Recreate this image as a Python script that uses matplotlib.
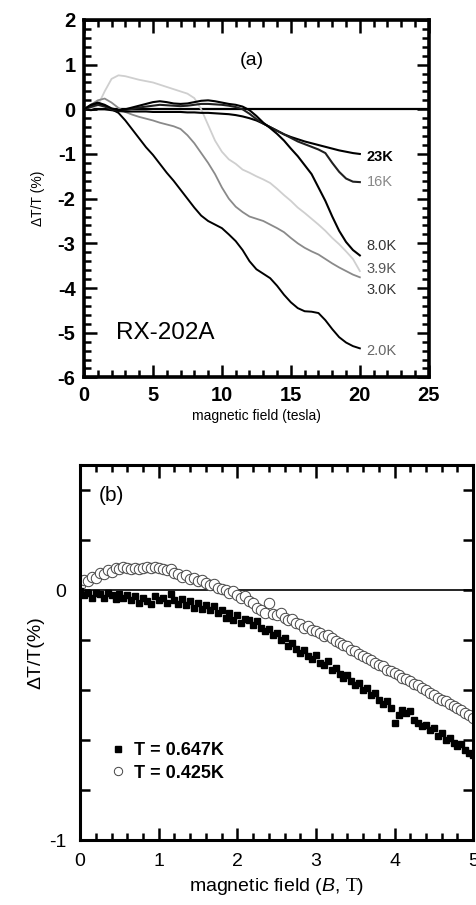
import numpy as np
import matplotlib
matplotlib.use("Agg")
import matplotlib.pyplot as plt
from matplotlib.ticker import MultipleLocator, FixedLocator

plt.rcParams['font.family'] = ['Liberation Sans', 'DejaVu Sans']
plt.rcParams['mathtext.fontset'] = 'custom'
plt.rcParams['mathtext.it'] = 'Liberation Sans:italic'
plt.rcParams['mathtext.rm'] = 'Liberation Serif'
plt.rcParams['axes.unicode_minus'] = False

# ---------------- panel (a) data ----------------
field_a = [0.0, 0.5, 1.0, 1.5, 2.0, 2.5, 3.0, 3.5, 4.0, 4.5, 5.0, 5.5, 6.0, 6.5, 7.0,
           7.5, 8.0, 8.5, 9.0, 9.5, 10.0, 10.5, 11.0, 11.5, 12.0, 12.5, 13.0, 13.5,
           14.0, 14.5, 15.0, 15.5, 16.0, 16.5, 17.0, 17.5, 18.0, 18.5, 19.0, 19.5, 20.0]

dT_2K0 = [0.0, 0.08, 0.12, 0.08, 0.0, -0.08, -0.25, -0.45, -0.65, -0.85, -1.02, -1.22,
          -1.42, -1.6, -1.8, -2.0, -2.2, -2.38, -2.5, -2.58, -2.66, -2.8, -2.95, -3.15,
          -3.4, -3.58, -3.68, -3.78, -3.95, -4.15, -4.32, -4.45, -4.52, -4.53, -4.56,
          -4.72, -4.92, -5.1, -5.22, -5.3, -5.35]
dT_3K0 = [0.0, 0.1, 0.2, 0.24, 0.15, 0.03, -0.06, -0.12, -0.17, -0.21, -0.25, -0.3,
          -0.34, -0.38, -0.44, -0.58, -0.76, -0.98, -1.2, -1.45, -1.75, -2.0, -2.18,
          -2.3, -2.4, -2.45, -2.5, -2.58, -2.66, -2.75, -2.88, -3.0, -3.1, -3.18, -3.25,
          -3.35, -3.45, -3.54, -3.62, -3.7, -3.76]
dT_3K9 = [0.0, 0.02, 0.08, 0.4, 0.68, 0.76, 0.74, 0.7, 0.66, 0.63, 0.6, 0.55, 0.5,
          0.45, 0.4, 0.35, 0.25, 0.0, -0.35, -0.7, -0.95, -1.12, -1.22, -1.35, -1.42,
          -1.5, -1.57, -1.65, -1.78, -1.92, -2.05, -2.2, -2.32, -2.45, -2.58, -2.72,
          -2.88, -3.02, -3.18, -3.35, -3.62]
dT_8K0 = [0.0, 0.1, 0.15, 0.1, 0.02, -0.02, 0.0, 0.04, 0.08, 0.12, 0.16, 0.18, 0.16,
          0.13, 0.12, 0.13, 0.16, 0.19, 0.2, 0.18, 0.15, 0.12, 0.1, 0.06, -0.02, -0.15,
          -0.3, -0.42, -0.55, -0.7, -0.88, -1.05, -1.25, -1.45, -1.75, -2.05, -2.4,
          -2.72, -2.97, -3.15, -3.27]
dT_16K = [0.0, 0.05, 0.1, 0.06, 0.0, -0.03, -0.02, 0.01, 0.04, 0.06, 0.08, 0.1, 0.09,
          0.08, 0.07, 0.08, 0.1, 0.12, 0.12, 0.11, 0.1, 0.08, 0.05, 0.0, -0.1, -0.22,
          -0.32, -0.4, -0.48, -0.56, -0.64, -0.72, -0.78, -0.84, -0.9, -0.98, -1.2,
          -1.4, -1.55, -1.62, -1.63]
dT_23K = [0.0, -0.02, 0.0, 0.0, -0.02, -0.04, -0.05, -0.05, -0.05, -0.05, -0.06, -0.06,
          -0.06, -0.06, -0.06, -0.07, -0.07, -0.08, -0.08, -0.09, -0.1, -0.11, -0.13,
          -0.16, -0.2, -0.25, -0.32, -0.4, -0.48, -0.56, -0.62, -0.67, -0.72, -0.76,
          -0.8, -0.84, -0.88, -0.92, -0.95, -0.98, -1.0]

curve_labels = ['23K', '16K', '8.0K', '3.9K', '3.0K', '2.0K']
curve_label_y = [-1.07, -1.63, -3.05, -3.57, -4.04, -5.4]

# ---------------- panel (b) data ----------------
field_b = [round(0.05 * i, 2) for i in range(101)]
dT_0647K = [-0.005, -0.02, -0.01, -0.03, -0.01, -0.015, -0.03, -0.01, -0.02, -0.035,
            -0.015, -0.03, -0.02, -0.04, -0.025, -0.05, -0.03, -0.045, -0.055, -0.025,
            -0.04, -0.03, -0.05, -0.015, -0.04, -0.055, -0.035, -0.06, -0.045, -0.07,
            -0.05, -0.075, -0.06, -0.08, -0.065, -0.09, -0.08, -0.11, -0.09, -0.12,
            -0.10, -0.13, -0.115, -0.12, -0.14, -0.125, -0.15, -0.165, -0.155, -0.18,
            -0.17, -0.20, -0.19, -0.225, -0.21, -0.235, -0.25, -0.24, -0.265, -0.275,
            -0.26, -0.29, -0.30, -0.285, -0.32, -0.31, -0.335, -0.35, -0.34, -0.365,
            -0.38, -0.37, -0.40, -0.39, -0.42, -0.41, -0.44, -0.455, -0.445, -0.47,
            -0.53, -0.50, -0.48, -0.49, -0.485, -0.52, -0.53, -0.545, -0.54, -0.56,
            -0.55, -0.585, -0.57, -0.60, -0.59, -0.61, -0.625, -0.615, -0.64, -0.65,
            -0.66]
dT_0425K = [0.02, 0.04, 0.035, 0.055, 0.05, 0.07, 0.065, 0.08, 0.075, 0.09, 0.085,
            0.095, 0.09, 0.085, 0.09, 0.085, 0.09, 0.095, 0.09, 0.095, 0.09, 0.085,
            0.08, 0.085, 0.07, 0.065, 0.055, 0.06, 0.045, 0.05, 0.035, 0.04, 0.03,
            0.02, 0.025, 0.01, 0.005, 0.0, -0.01, -0.005, -0.02, -0.03, -0.025, -0.045,
            -0.05, -0.07, -0.08, -0.09, -0.05, -0.095, -0.10, -0.09, -0.11, -0.12,
            -0.115, -0.13, -0.135, -0.15, -0.145, -0.16, -0.165, -0.17, -0.185, -0.18,
            -0.19, -0.205, -0.21, -0.22, -0.225, -0.24, -0.245, -0.255, -0.265, -0.27,
            -0.28, -0.29, -0.30, -0.305, -0.32, -0.325, -0.33, -0.34, -0.35, -0.355,
            -0.365, -0.375, -0.38, -0.39, -0.40, -0.41, -0.42, -0.43, -0.44, -0.445,
            -0.455, -0.465, -0.47, -0.48, -0.49, -0.50, -0.51]
legend_labels = ['T = 0.647K', 'T = 0.425K']

# ---------------- figure ----------------
fig = plt.figure(figsize=(4.77, 9.05), dpi=100)

# panel (a)
ax = fig.add_axes([0.176, 0.583, 0.723, 0.395])
ax.axhline(0, color='black', lw=1.6, zorder=1)
ax.plot(field_a, dT_3K9, color='#cfcfcf', lw=1.3, zorder=2)
ax.plot(field_a, dT_3K0, color='#8a8a8a', lw=1.3, zorder=3)
ax.plot(field_a, dT_2K0, color='black', lw=1.4, zorder=4)
ax.plot(field_a, dT_23K, color='black', lw=1.5, zorder=4)
ax.plot(field_a, dT_16K, color='#202020', lw=1.5, zorder=4)
ax.plot(field_a, dT_8K0, color='black', lw=1.5, zorder=4)
ax.set_xlim(0, 25)
ax.set_ylim(-6, 2)
ax.xaxis.set_major_locator(MultipleLocator(5))
ax.xaxis.set_minor_locator(MultipleLocator(1))
ax.yaxis.set_major_locator(MultipleLocator(1))
ax.yaxis.set_minor_locator(MultipleLocator(0.2))
ax.tick_params(which='both', direction='in', top=True, right=True, width=1.8)
ax.tick_params(which='major', length=9, labelsize=14.5, pad=6)
ax.tick_params(which='minor', length=5)
for lab in ax.get_xticklabels() + ax.get_yticklabels():
    lab.set_fontweight('bold')
for sp in ax.spines.values():
    sp.set_linewidth(2.6)
ax.set_xlabel('magnetic field (tesla)', fontsize=10, labelpad=3)
ax.set_ylabel('ΔT/T (%)', fontsize=10, labelpad=9)
ax.text(12.2, 1.1, '(a)', fontsize=14, ha='center', va='center')
ax.text(2.3, -5.0, 'RX-202A', fontsize=17.5, ha='left', va='center')
label_colors = ['black', '#888888', '#333333', '#555555', '#333333', '#666666']
label_weights = ['bold', 'normal', 'normal', 'normal', 'normal', 'normal']
for t, yv, c, w in zip(curve_labels, curve_label_y, label_colors, label_weights):
    ax.text(20.5, yv, t, fontsize=10.5, color=c, weight=w, ha='left', va='center')

# panel (b)
bx = fig.add_axes([0.168, 0.0718, 0.824, 0.414])
bx.axhline(0, color='black', lw=1.2, zorder=1)
bx.plot(field_b, dT_0647K, ls='none', marker='s', ms=5, color='black',
        label=legend_labels[0], zorder=3)
bx.plot(field_b, dT_0425K, ls='none', marker='o', ms=7.5, mfc='white', mec='#444444',
        mew=0.7, label=legend_labels[1], zorder=2)
bx.set_xlim(0, 5)
bx.set_ylim(-1, 0.5)
bx.xaxis.set_major_locator(MultipleLocator(1))
bx.xaxis.set_minor_locator(MultipleLocator(0.2))
bx.yaxis.set_major_locator(FixedLocator([-1, 0]))
bx.yaxis.set_minor_locator(FixedLocator([-0.8, -0.6, -0.4, -0.2, 0.2, 0.4]))
bx.tick_params(which='both', direction='in', top=True, right=True, width=1.8)
bx.tick_params(axis='x', which='major', length=9, labelsize=14, pad=9)
bx.tick_params(axis='x', which='minor', length=5)
bx.tick_params(axis='y', which='both', length=7, labelsize=14, pad=10)
for sp in bx.spines.values():
    sp.set_linewidth(2.2)
bx.set_xlabel(r'magnetic field ($\mathit{B}$, $\mathrm{T}$)', fontsize=14, labelpad=5)
bx.set_ylabel('ΔT/T(%)', fontsize=14, labelpad=3)
bx.text(0.4, 0.38, '(b)', fontsize=15, ha='center', va='center')
leg = bx.legend(loc='upper left', bbox_to_anchor=(0.06, 0.28), frameon=False,
                fontsize=13, handlelength=0.8, handletextpad=0.5, labelspacing=0.3,
                borderaxespad=0, markerscale=0.8)
for t in leg.get_texts():
    t.set_fontweight('bold')

fig.savefig('out.png', dpi=100)
